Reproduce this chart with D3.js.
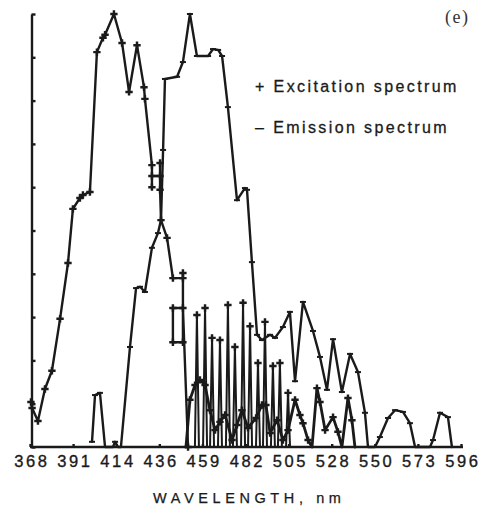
<!DOCTYPE html>
<html>
<head>
<meta charset="utf-8">
<script src="https://cdn.jsdelivr.net/npm/d3@7/dist/d3.min.js"></script>
<style>
  html, body { margin: 0; padding: 0; background: #fff; }
  svg { display: block; }
</style>
</head>
<body>
<svg id="chart" width="488" height="514"></svg>
<script>
// Axis ticks (wavelength in nm, relative intensity in %)
const wavelengthTicks = [368, 390.8, 413.6, 436.4, 459.2, 482, 504.8, 527.6, 550.4, 573.2, 596];
const wavelengthLabels = ["368", "391", "414", "436", "459", "482", "505", "528", "550", "573", "596"];
const intensityTicks = [0, 10, 20, 30, 40, 50, 60, 70, 80, 90, 100];

// Excitation spectrum, main trace
const excitationWl = [368.5, 369.1, 372.2, 375.9, 379.6, 383.9, 388.1, 390.7, 394.4, 396.0, 399.7,
  403.4, 406.6, 407.7, 412.4, 416.7, 420.4, 424.6, 428.3, 428.8, 432.5, 432.5, 432.5, 436.8,
  436.8, 436.8, 437.3, 440.5, 443.6, 448.9, 448.9, 448.9, 443.6, 443.6, 448.9, 451.6];
const excitationInt = [10.4, 9.0, 6.0, 13.4, 17.6, 29.6, 42.5, 55.0, 57.5, 58.2, 58.9,
  91.2, 94.5, 95.2, 100.0, 93.3, 82.0, 92.8, 83.1, 80.4, 65.1, 60.0, 62.6, 62.6,
  65.6, 59.4, 52.4, 48.3, 39.0, 39.0, 40.2, 24.2, 24.2, 32.1, 32.1, 0];

// Excitation spectrum, narrow spikes beyond 450 nm
const spikeWl = [456.3, 460.6, 464.3, 468.5, 472.7, 476.4, 480.7, 484.4, 488.6, 492.3, 496.5, 500.2, 504.5];
const spikeInt = [30.5, 32.1, 25.2, 24.7, 32.8, 23.1, 33.3, 27.9, 19.4, 28.9, 18.7, 19.4, 12.5];

// Excitation spectrum, low-level trace beyond 450 nm
const excitationLowWl = [450.5, 452.6, 455.3, 457.9, 460.6, 463.2, 465.9, 468.5, 471.2, 474.9, 477.5,
  480.1, 483.3, 487.6, 490.7, 492.8, 495.0, 498.7, 501.8, 504.5, 508.2, 510.8, 512.4, 515.1,
  517.2, 519.8, 521.4, 524.1, 528.3, 530.9, 533.0, 536.2, 538.3, 539.9];
const excitationLowInt = [0, 10.9, 14.3, 15.5, 14.3, 8.5, 3.9, 5.8, 7.4, 1.6, 5.1,
  8.5, 4.4, 6.7, 9.7, 9.7, 3.2, 6.2, 1.6, 3.9, 10.9, 7.4, 5.5, 1.6,
  0, 13.6, 10.4, 3.9, 6.9, 3.5, 0, 11.3, 6.2, 0];

// Emission spectrum
const emissionWl = [400.8, 402.4, 405.0, 407.7, 411.9, 413.0, 414.6, 416.1, 420.9, 424.1, 426.2,
  428.8, 432.5, 435.7, 437.3, 438.4, 439.4, 445.8, 448.9, 452.6, 456.3, 462.2, 464.8, 467.5,
  469.6, 472.7, 477.5, 481.7, 482.8, 485.4, 488.1, 490.7, 495.0, 497.6, 501.8, 505.5, 508.2,
  512.4, 517.7, 521.4, 525.1, 528.3, 533.0, 537.3, 541.5, 545.2, 546.8, 550.5, 553.1, 557.4,
  561.1, 565.3, 569.0, 571.7, 579.6, 581.2, 584.9, 589.1, 591.2];
const emissionInt = [1.2, 12.0, 12.5, 0, 0, 1.2, 0, 0, 23.1, 36.7, 37.0,
  35.8, 46.0, 49.4, 52.4, 68.6, 85.0, 85.5, 88.9, 100.0, 90.3, 90.3, 91.9, 91.7,
  90.3, 78.5, 57.0, 59.8, 59.4, 42.7, 25.9, 24.7, 25.9, 25.2, 27.7, 31.2, 15.2,
  33.5, 26.8, 20.8, 13.2, 24.9, 12.7, 21.5, 17.3, 7.9, 0, 0, 2.3, 6.7,
  8.5, 8.1, 5.5, 0, 0, 1.6, 7.9, 6.9, 0];

const ink = "#1a1a1a";
const sans = "'Liberation Sans', Arial, sans-serif";
const svg = d3.select("#chart");
svg.append("rect").attr("width", 488).attr("height", 514).attr("fill", "#fff");

const x = d3.scaleLinear().domain([368, 596]).range([30, 461]);
const y = d3.scaleLinear().domain([0, 100]).range([447, 14]);

const zip = (a, b) => a.map((v, i) => [v, b[i]]);
const excitation = zip(excitationWl, excitationInt);
const excitationLow = zip(excitationLowWl, excitationLowInt);
const spikes = zip(spikeWl, spikeInt);
const emission = zip(emissionWl, emissionInt);

// Axes
const xAxis = d3.axisBottom(x)
  .tickValues(wavelengthTicks)
  .tickFormat((d, i) => wavelengthLabels[i])
  .tickSizeInner(-3)
  .tickSizeOuter(0)
  .tickPadding(9);
const gx = svg.append("g").attr("transform", `translate(0,${y(0)})`).call(xAxis);
gx.select(".domain").attr("d", `M${x(368)},0H${x(596) + 2}`);
gx.selectAll("path, line").attr("stroke", ink).attr("stroke-width", 2.4);
gx.selectAll("text")
  .attr("fill", ink)
  .attr("stroke", ink)
  .attr("stroke-width", 0.35)
  .attr("font-family", sans)
  .attr("font-size", 16.5)
  .attr("letter-spacing", "2.6px")
  .attr("dx", "1.3px")
  .attr("dy", 0)
  .attr("y", 20);

const yAxis = d3.axisLeft(y)
  .tickValues(intensityTicks)
  .tickFormat("")
  .tickSizeInner(-4)
  .tickSizeOuter(0);
const gy = svg.append("g").attr("transform", `translate(${x(368) + 1.5},0)`).call(yAxis);
gy.selectAll("path, line").attr("stroke", ink).attr("stroke-width", 2.4);

// Traces
const line = d3.line().x(d => x(d[0])).y(d => y(d[1]));
const plot = svg.append("g")
  .attr("fill", "none")
  .attr("stroke", ink)
  .attr("stroke-width", 2.4)
  .attr("stroke-linejoin", "round")
  .attr("stroke-linecap", "round");

plot.append("path").attr("d", line(emission));
plot.append("path").attr("d", line(excitation));
plot.append("path").attr("d", line(excitationLow)).attr("stroke-width", 2.8);

// Spikes: narrow peaks rising from the baseline
plot.selectAll("path.spike")
  .data(spikes)
  .join("path")
  .attr("class", "spike")
  .attr("stroke-width", 2)
  .attr("d", d => `M${x(d[0]) - 2},${y(0)}L${x(d[0])},${y(d[1])}L${x(d[0]) + 2},${y(0)}`);

// Markers: "+" on the excitation points, short dash on the emission points
const cross = d3.symbol().type(d3.symbolCross).size(30);
const markers = svg.append("g").attr("fill", ink);
markers.selectAll("path.exc")
  .data(excitation.concat(spikes, excitationLow.filter(d => d[1] > 0)))
  .join("path")
  .attr("class", "exc")
  .attr("transform", d => `translate(${x(d[0])},${y(d[1])})`)
  .attr("d", cross);
markers.selectAll("rect.emi")
  .data(emission)
  .join("rect")
  .attr("class", "emi")
  .attr("x", d => x(d[0]) - 3)
  .attr("y", d => y(d[1]) - 1)
  .attr("width", 6)
  .attr("height", 2);

// Legend
const legend = svg.append("g")
  .attr("font-family", sans)
  .attr("font-size", 16)
  .attr("letter-spacing", "2.4px")
  .attr("fill", ink)
  .attr("stroke", ink)
  .attr("stroke-width", 0.3);
legend.append("text").attr("x", 255).attr("y", 92).text("+ Excitation spectrum");
legend.append("text").attr("x", 255).attr("y", 133).text("– Emission spectrum");

// Panel label
svg.append("text")
  .attr("x", 445).attr("y", 23)
  .attr("font-family", "'Liberation Serif', 'Times New Roman', serif")
  .attr("font-size", 18)
  .attr("letter-spacing", "1.5px")
  .attr("fill", "#333")
  .text("(e)");

// Axis title
svg.append("text")
  .attr("x", 153).attr("y", 503)
  .attr("font-family", sans)
  .attr("font-size", 14.5)
  .attr("letter-spacing", "4.6px")
  .attr("fill", ink)
  .attr("stroke", ink)
  .attr("stroke-width", 0.25)
  .text("WAVELENGTH, nm");
</script>
</body>
</html>
